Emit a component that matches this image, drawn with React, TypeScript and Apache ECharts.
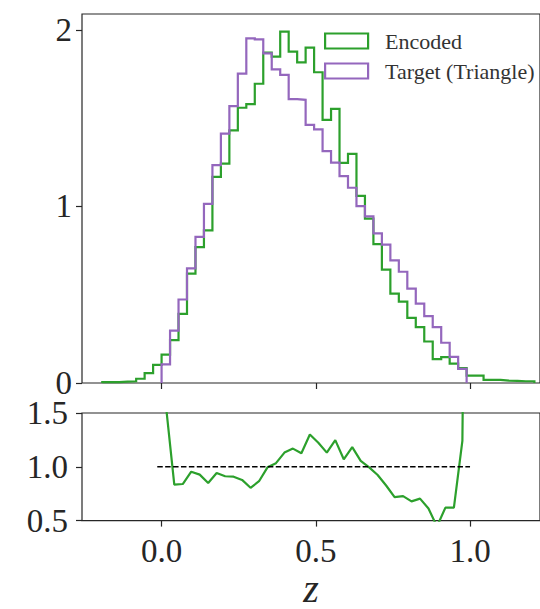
import React, { useEffect, useRef } from 'react';
import * as echarts from 'echarts';

// Histogram binning (shared by both histograms)
const BIN_FIRST_EDGE = -0.1923;
const BIN_WIDTH = 0.02747;

// Density per bin (51 bins)
const ENCODED_DENSITY = [
  0.005, 0.005, 0.008, 0.01, 0.024, 0.056, 0.103,
  0.161, 0.243, 0.392, 0.619, 0.77, 0.864, 1.168, 1.242, 1.431, 1.559,
  1.58, 1.695, 1.872, 1.849, 1.99, 1.877, 1.816, 1.9, 1.76, 1.49,
  1.553, 1.247, 1.298, 1.06, 0.931, 0.787, 0.642, 0.506, 0.461, 0.369,
  0.316, 0.235, 0.135, 0.146, 0.11, 0.085, 0.042, 0.042, 0.018, 0.018,
  0.014, 0.012, 0.01, 0.01,
];
const TARGET_DENSITY = [
  0, 0, 0, 0, 0, 0, 0,
  0.105, 0.297, 0.473, 0.649, 0.828, 1.015, 1.234, 1.412, 1.568, 1.752,
  1.952, 1.946, 1.867, 1.776, 1.745, 1.608, 1.604, 1.462, 1.436, 1.313,
  1.248, 1.172, 1.106, 1.002, 0.944, 0.847, 0.784, 0.694, 0.63, 0.535,
  0.45, 0.379, 0.316, 0.228, 0.148, 0.08,
  0, 0, 0, 0, 0, 0, 0, 0,
];

// Ratio (Encoded / Target) at bin centres, starting at bin index 7
const RATIO_FIRST_BIN = 7;
const RATIO_VALUES = [
  1.58, 0.835, 0.84, 0.954, 0.927, 0.85, 0.942, 0.912, 0.908, 0.878,
  0.805, 0.866, 0.995, 1.034, 1.132, 1.169, 1.126, 1.3, 1.224, 1.132,
  1.248, 1.07, 1.183, 1.055, 0.994, 0.924, 0.826, 0.719, 0.728, 0.679,
  0.704, 0.612, 0.445, 0.621, 0.621, 1.24, 9.0,
];

const REFERENCE_LINE_X = [-0.014, 1.0];
const REFERENCE_LEVEL = 1.0;

const X_TICKS = [0, 0.5, 1.0];
const TOP_Y_TICKS = [0, 1, 2];
const SERIES_NAMES = ['Encoded', 'Target (Triangle)'];
const COLORS = ['#2ca02c', '#9467bd'];

const X_MIN = -0.258;
const X_MAX = 1.2268;
const TOP_Y_MAX = 2.09;

const edge = (i: number) => BIN_FIRST_EDGE + i * BIN_WIDTH;

function stepPoints(values: number[]): number[][] {
  const first = values.findIndex((v) => v > 0);
  let last = values.length - 1;
  while (last > first && !(values[last] > 0)) last--;
  const pts: number[][] = [[edge(first), 0]];
  for (let i = first; i <= last; i++) pts.push([edge(i), values[i]]);
  pts.push([edge(last + 1), 0]);
  return pts;
}

const FONT = 'Liberation Serif';
const INK = '#262626';

export default function App() {
  const ref = useRef<HTMLDivElement>(null);
  useEffect(() => {
    if (!ref.current) return;
    const chart = echarts.init(ref.current, undefined, { renderer: 'svg' });
    const ratioData = RATIO_VALUES.map((v, k) => [
      edge(RATIO_FIRST_BIN + k) + BIN_WIDTH / 2,
      v,
    ]);
    const refData = REFERENCE_LINE_X.map((x) => [x, REFERENCE_LEVEL]);
    const tickLabel = {
      fontFamily: FONT,
      fontSize: 33,
      lineHeight: 24,
      color: INK,
    };
    const tickStyle = { show: true, length: 6, lineStyle: { color: INK, width: 1.2 } };
    chart.setOption({
      animation: false,
      backgroundColor: '#ffffff',
      grid: [
        {
          left: 82, right: -2, top: 14, height: 369,
          show: true, borderColor: INK, borderWidth: 1.2, backgroundColor: 'transparent',
        },
        {
          left: 82, right: -2, top: 413, height: 110,
          show: true, borderColor: INK, borderWidth: 1.2, backgroundColor: 'transparent',
        },
      ],
      legend: {
        orient: 'vertical',
        left: 324,
        top: 30,
        padding: 0,
        icon: 'rect',
        itemWidth: 43,
        itemHeight: 15,
        itemGap: 8,
        textStyle: {
          fontFamily: FONT,
          fontSize: 22,
          color: '#333',
          lineHeight: 15,
          padding: [0, 0, 0, 12],
        },
        data: SERIES_NAMES.map((n, i) => ({
          name: n,
          itemStyle: { color: 'rgba(0,0,0,0)', borderColor: COLORS[i], borderWidth: 2.2 },
        })),
      },
      xAxis: [
        {
          gridIndex: 0, type: 'value', min: X_MIN, max: X_MAX,
          axisLine: { show: false, onZero: false },
          axisTick: { ...tickStyle, customValues: X_TICKS },
          axisLabel: { show: false },
          splitLine: { show: false },
        },
        {
          gridIndex: 1, type: 'value', min: X_MIN, max: X_MAX,
          axisLine: { show: false, onZero: false },
          axisTick: { ...tickStyle, customValues: X_TICKS },
          axisLabel: {
            ...tickLabel,
            customValues: X_TICKS,
            margin: 18,
            formatter: (v: number) => v.toFixed(1),
          },
          splitLine: { show: false },
          name: 'z',
          nameLocation: 'middle',
          nameGap: 50,
          nameTextStyle: { fontFamily: FONT, fontSize: 40, fontStyle: 'italic', color: INK, lineHeight: 30 },
        },
      ],
      yAxis: [
        {
          gridIndex: 0, type: 'value', min: 0, max: TOP_Y_MAX,
          axisLine: { show: false, onZero: false },
          axisTick: { ...tickStyle, customValues: TOP_Y_TICKS },
          axisLabel: { ...tickLabel, customValues: TOP_Y_TICKS, margin: 10 },
          splitLine: { show: false },
        },
        {
          gridIndex: 1, type: 'value', min: 0.5, max: 1.5, interval: 0.5,
          axisLine: { show: false, onZero: false },
          axisTick: tickStyle,
          axisLabel: { ...tickLabel, margin: 14, formatter: (v: number) => v.toFixed(1) },
          splitLine: { show: false },
        },
      ],
      series: [
        {
          name: SERIES_NAMES[0], type: 'line', step: 'end',
          xAxisIndex: 0, yAxisIndex: 0,
          symbol: 'none', showSymbol: false,
          lineStyle: { color: COLORS[0], width: 2.2, join: 'miter' },
          itemStyle: { color: COLORS[0] },
          data: stepPoints(ENCODED_DENSITY),
        },
        {
          name: SERIES_NAMES[1], type: 'line', step: 'end',
          xAxisIndex: 0, yAxisIndex: 0,
          symbol: 'none', showSymbol: false,
          lineStyle: { color: COLORS[1], width: 2.2, join: 'miter' },
          itemStyle: { color: COLORS[1] },
          data: stepPoints(TARGET_DENSITY),
        },
        {
          name: 'ratio', type: 'line',
          xAxisIndex: 1, yAxisIndex: 1,
          symbol: 'none', showSymbol: false,
          lineStyle: { color: COLORS[0], width: 2.2 },
          itemStyle: { color: COLORS[0] },
          data: ratioData,
        },
        {
          name: 'reference', type: 'line',
          xAxisIndex: 1, yAxisIndex: 1,
          symbol: 'none', showSymbol: false,
          lineStyle: { color: '#000', width: 1.5, type: [5.5, 2.4] },
          itemStyle: { color: '#000' },
          data: refData,
        },
      ],
    });
    return () => chart.dispose();
  }, []);
  return (
    <div
      ref={ref}
      style={{ position: 'fixed', left: 0, top: 0, width: 540, height: 609, background: '#fff' }}
    />
  );
}
